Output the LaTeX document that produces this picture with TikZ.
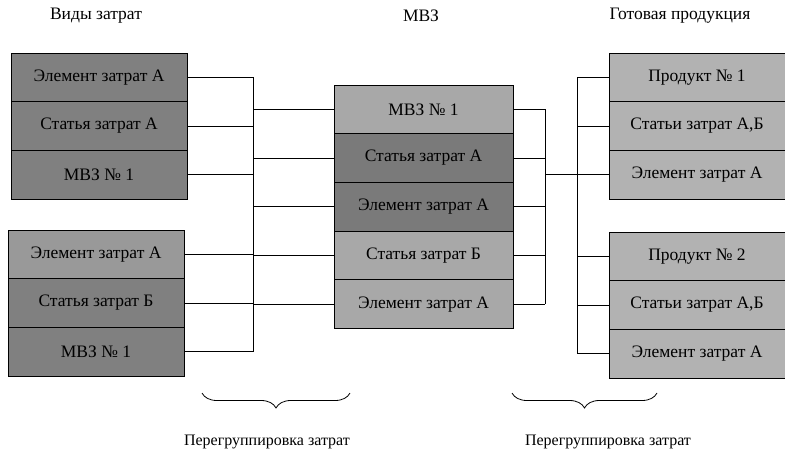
\documentclass[tikz,border=0pt]{standalone}
\usepackage{fontspec}
\setmainfont{Liberation Serif}
\newfontfamily\diagfont{Liberation Serif}
\usetikzlibrary{positioning,decorations.pathreplacing}
\definecolor{CostGray}{gray}{0.50}
\definecolor{CostLight}{gray}{0.60}
\definecolor{PlaceGray}{gray}{0.48}
\definecolor{PlaceLight}{gray}{0.66}
\definecolor{ProductGray}{gray}{0.70}
\tikzset{
  row/.style={draw,thick,minimum width=176pt,minimum height=48.7pt,
    inner sep=0pt,outer sep=0pt,font=\diagfont\fontsize{17.5}{19}\selectfont},
  cost/.style={row,fill=CostGray},
  costlight/.style={row,fill=CostLight},
  place/.style={row,fill=PlaceGray,minimum width=179pt},
  placelight/.style={row,fill=PlaceLight,minimum width=179pt},
  product/.style={row,fill=ProductGray},
  link/.style={thick},
  title/.style={font=\diagfont\fontsize{17.5}{19}\selectfont},
  caption/.style={font=\diagfont\fontsize{16}{18}\selectfont},
  group/.style={decorate,decoration={brace,mirror,amplitude=15pt},thick}
}

\begin{document}
\begin{tikzpicture}[x=1pt,y=-1pt,node distance=0pt]
\useasboundingbox (0,0) rectangle (785,452);

\node[title] (tcost) at (96,16) {Виды затрат};
\node[title] (tplace) at (421,16) {МВЗ};
\node[title] (tprod) at (680,16) {Готовая продукция};

\node[cost,anchor=north west] (c1) at (11,53) {Элемент затрат А};
\node[cost,below=of c1] (c2) {Статья затрат А};
\node[cost,below=of c2] (c3) {МВЗ № 1};

\node[costlight,anchor=north west] (c4) at (8,230) {Элемент затрат А};
\node[cost,below=of c4] (c5) {Статья затрат Б};
\node[cost,below=of c5] (c6) {МВЗ № 1};

\node[placelight,anchor=north west] (m1) at (334,85) {МВЗ № 1};
\node[place,below=of m1] (m2) {Статья затрат А};
\node[place,below=of m2] (m3) {Элемент затрат А};
\node[placelight,below=of m3] (m4) {Статья затрат Б};
\node[placelight,below=of m4] (m5) {Элемент затрат А};

\node[product,anchor=north west] (p1) at (609,53) {Продукт № 1};
\node[product,below=of p1] (p2) {Статьи затрат А,Б};
\node[product,below=of p2] (p3) {Элемент затрат А};

\node[product,anchor=north west] (p4) at (609,232) {Продукт № 2};
\node[product,below=of p4] (p5) {Статьи затрат А,Б};
\node[product,below=of p5] (p6) {Элемент затрат А};

\coordinate (busA) at (253,0);
\coordinate (busB) at (545,0);
\coordinate (busC) at (577,0);

\foreach \r in {c1,c2,c3,c4,c5,c6}
  \draw[link] (\r.east) -- (\r.east -| busA);
\draw[link] (c1.east -| busA) -- (c6.east -| busA);
\foreach \r in {m1,m2,m3,m4,m5}
  \draw[link] (\r.west -| busA) -- (\r.west);

\foreach \r in {m1,m2,m3,m4,m5}
  \draw[link] (\r.east) -- (\r.east -| busB);
\draw[link] (m1.east -| busB) -- (m5.east -| busB);
\draw[link] (p3.west -| busB) -- (p3.west);

\foreach \r in {p1,p2,p4,p5,p6}
  \draw[link] (\r.west -| busC) -- (\r.west);
\draw[link] (p1.west -| busC) -- (p6.west -| busC);

\coordinate (g1a) at (202,393);
\coordinate (g1b) at (350,393);
\coordinate (g2a) at (512,393);
\coordinate (g2b) at (657,393);
\draw[group] (g1a) -- (g1b);
\draw[group] (g2a) -- (g2b);

\node[caption] (lbl1) at (267,442) {Перегруппировка затрат};
\node[caption] (lbl2) at (608,442) {Перегруппировка затрат};

\end{tikzpicture}
\end{document}
